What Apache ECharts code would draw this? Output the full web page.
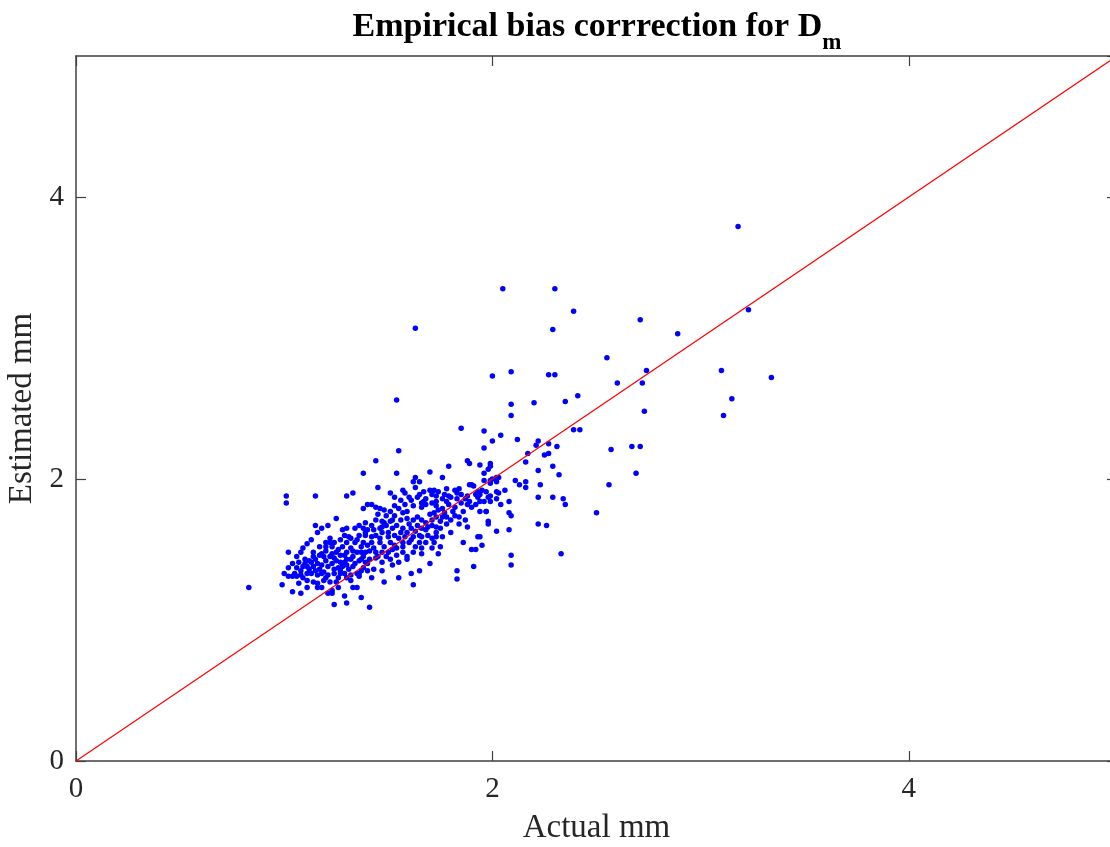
<!DOCTYPE html>
<html>
<head>
<meta charset="utf-8">
<style>
html, body { margin: 0; padding: 0; background: #fff; }
#container { width: 1110px; height: 847px; }
</style>
<script src="https://cdn.jsdelivr.net/npm/echarts@6/dist/echarts.min.js"></script>
</head>
<body>
<div id="container"></div>
<script>
// axis ticks
var xTicks = [0, 2, 4];
var yTicks = [0, 2, 4];

// reference line y = x
var refLine = [[0, 0], [5, 5]];

// sparse points, upper right tail
var tailPts = [
    [3.18, 3.79], [3.23, 3.20], [2.71, 3.13], [2.89, 3.03], [2.55, 2.86], [2.60, 2.68],
    [2.72, 2.68], [2.74, 2.77], [2.73, 2.48], [3.10, 2.77], [3.15, 2.57], [3.11, 2.45],
    [3.34, 2.72], [2.57, 2.21], [2.67, 2.23], [2.71, 2.23], [2.69, 2.04], [2.56, 1.96],
    [2.50, 1.76], [2.39, 3.19], [2.29, 3.06], [2.05, 3.35], [2.30, 3.35], [1.63, 3.07]
];

// points around actual 1.9 - 2.4
var midPts = [
    [2.00, 2.73], [2.09, 2.76], [2.27, 2.74], [2.30, 2.74], [2.09, 2.53], [2.09, 2.45],
    [2.20, 2.54], [2.35, 2.55], [2.41, 2.59], [1.96, 2.34], [2.04, 2.31], [2.00, 2.27],
    [1.96, 2.22], [2.12, 2.28], [2.22, 2.27], [2.21, 2.24], [2.27, 2.25], [2.31, 2.23],
    [2.39, 2.35], [2.42, 2.35], [2.17, 2.18], [2.25, 2.17], [2.27, 2.18], [2.16, 2.12],
    [2.29, 2.09], [2.22, 2.06], [2.32, 2.03], [1.94, 2.10], [1.99, 2.11], [1.99, 2.09],
    [1.98, 2.07], [1.96, 2.04], [1.96, 1.99], [1.99, 1.99], [1.99, 1.97], [2.02, 2.01],
    [2.03, 2.01], [2.02, 1.98], [2.11, 1.99], [2.13, 1.96], [2.16, 1.98], [2.16, 1.94],
    [2.23, 1.96], [2.22, 1.87], [2.29, 1.87], [2.34, 1.86], [2.35, 1.82], [1.95, 1.92],
    [1.94, 1.89], [1.98, 1.87], [2.02, 1.91], [2.03, 1.90], [2.06, 1.92], [2.02, 1.86],
    [1.94, 1.84], [1.96, 1.84], [1.99, 1.84], [2.04, 1.82], [2.08, 1.84], [1.97, 1.77],
    [1.94, 1.77], [2.08, 1.76], [2.09, 1.74], [1.98, 1.70], [1.98, 1.68], [2.02, 1.63],
    [2.08, 1.64], [2.22, 1.68], [2.26, 1.67], [1.95, 1.53], [2.09, 1.46], [2.09, 1.39],
    [2.33, 1.47], [1.94, 1.59]
];

// points around actual 1.35 - 1.95
var upperCluster = [
    [1.85, 2.36], [1.55, 2.20], [1.44, 2.13], [1.38, 2.04], [1.54, 2.56], [1.54, 2.04],
    [1.70, 2.05], [1.79, 2.09], [1.88, 2.13], [1.89, 2.11], [2.00, 2.00], [1.76, 2.01],
    [1.63, 2.01], [1.62, 1.98], [1.65, 1.98], [1.63, 1.94], [1.45, 1.94], [1.51, 1.90],
    [1.57, 1.92], [1.58, 1.90], [1.53, 1.87], [1.56, 1.85], [1.60, 1.87], [1.61, 1.85],
    [1.65, 1.89], [1.64, 1.87], [1.67, 1.91], [1.70, 1.92], [1.72, 1.92], [1.71, 1.89],
    [1.73, 1.88], [1.74, 1.91], [1.77, 1.89], [1.76, 1.86], [1.79, 1.88], [1.80, 1.87],
    [1.83, 1.86], [1.84, 1.93], [1.85, 1.89], [1.82, 1.92], [1.89, 1.96], [1.90, 1.96],
    [1.91, 1.95], [1.93, 1.91], [1.92, 1.89], [1.93, 1.87], [1.89, 1.84], [1.88, 1.88],
    [1.97, 1.91], [1.99, 1.88], [1.40, 1.82], [1.42, 1.82], [1.44, 1.80], [1.46, 1.79],
    [1.48, 1.78], [1.38, 1.79], [1.53, 1.81], [1.55, 1.79], [1.51, 1.77], [1.53, 1.74],
    [1.57, 1.76], [1.59, 1.77], [1.66, 1.83], [1.66, 1.80], [1.67, 1.84], [1.68, 1.82],
    [1.71, 1.83], [1.73, 1.84], [1.73, 1.81], [1.74, 1.78], [1.72, 1.76], [1.76, 1.79],
    [1.78, 1.84], [1.79, 1.82], [1.82, 1.80], [1.86, 1.77], [1.88, 1.82], [1.90, 1.80],
    [1.92, 1.82], [1.97, 1.77], [1.84, 1.73], [1.82, 1.74], [1.80, 1.71], [1.78, 1.73],
    [1.76, 1.73], [1.73, 1.73], [1.71, 1.71], [1.68, 1.69], [1.66, 1.71], [1.64, 1.73],
    [1.62, 1.71], [1.59, 1.72], [1.56, 1.71], [1.52, 1.71], [1.51, 1.70], [1.48, 1.69],
    [1.47, 1.70], [1.44, 1.71], [1.42, 1.67], [1.39, 1.69], [1.38, 1.65], [1.40, 1.64],
    [1.43, 1.64], [1.46, 1.65], [1.49, 1.67], [1.52, 1.65], [1.54, 1.67], [1.57, 1.65],
    [1.61, 1.65], [1.64, 1.67], [1.66, 1.65], [1.68, 1.64], [1.71, 1.67], [1.73, 1.66],
    [1.75, 1.65], [1.78, 1.68], [1.80, 1.62], [1.84, 1.68], [1.87, 1.71], [1.88, 1.66],
    [1.93, 1.59], [1.50, 1.62], [1.56, 1.62], [1.60, 1.68], [1.63, 1.63], [1.69, 1.66],
    [1.70, 1.75], [1.75, 1.70], [1.77, 1.76], [1.81, 1.77], [1.85, 1.83], [1.87, 1.86],
    [1.83, 1.90], [1.78, 1.93], [1.68, 1.86], [1.62, 1.81], [1.58, 1.82], [1.49, 1.74],
    [1.45, 1.75], [1.47, 1.66]
];

// points around actual 1.35 - 1.95, lower half
var lowerCluster = [
    [1.39, 1.60], [1.42, 1.59], [1.44, 1.60], [1.47, 1.62], [1.50, 1.59], [1.53, 1.60],
    [1.55, 1.58], [1.58, 1.59], [1.59, 1.62], [1.62, 1.59], [1.65, 1.60], [1.66, 1.59],
    [1.69, 1.60], [1.71, 1.58], [1.73, 1.62], [1.76, 1.59], [1.38, 1.55], [1.40, 1.53],
    [1.42, 1.55], [1.46, 1.55], [1.48, 1.52], [1.51, 1.55], [1.53, 1.53], [1.54, 1.51],
    [1.57, 1.52], [1.60, 1.55], [1.63, 1.52], [1.65, 1.55], [1.66, 1.51], [1.71, 1.51],
    [1.75, 1.52], [1.86, 1.55], [1.90, 1.50], [1.92, 1.50], [1.37, 1.48], [1.39, 1.48],
    [1.41, 1.49], [1.44, 1.48], [1.47, 1.48], [1.50, 1.48], [1.52, 1.50], [1.54, 1.46],
    [1.57, 1.48], [1.59, 1.45], [1.62, 1.48], [1.66, 1.47], [1.74, 1.47], [1.37, 1.43],
    [1.39, 1.41], [1.41, 1.43], [1.44, 1.44], [1.47, 1.41], [1.51, 1.43], [1.52, 1.39],
    [1.55, 1.41], [1.59, 1.43], [1.70, 1.40], [1.91, 1.38], [1.38, 1.37], [1.43, 1.36],
    [1.47, 1.35], [1.36, 1.33], [1.42, 1.30], [1.55, 1.30], [1.61, 1.33], [1.65, 1.35],
    [1.83, 1.35], [1.83, 1.29], [1.48, 1.27], [1.62, 1.25], [1.37, 1.16], [1.41, 1.09],
    [1.72, 1.55], [1.73, 1.59], [1.45, 1.45], [1.49, 1.45], [1.43, 1.51], [1.46, 1.58],
    [1.57, 1.55], [1.61, 1.57], [1.68, 1.55]
];

// points around actual 0.8 - 1.35
var leftCluster = [
    [1.01, 1.88], [1.01, 1.83], [1.15, 1.88], [1.30, 1.88], [1.33, 1.90], [1.25, 1.72],
    [1.15, 1.67], [1.18, 1.65], [1.21, 1.67], [1.16, 1.62], [1.13, 1.57], [1.11, 1.54],
    [1.09, 1.51], [1.02, 1.48], [1.08, 1.48], [1.14, 1.48], [1.20, 1.55], [1.20, 1.52],
    [1.22, 1.58], [1.22, 1.55], [1.20, 1.49], [1.23, 1.52], [1.28, 1.64], [1.30, 1.65],
    [1.29, 1.60], [1.31, 1.59], [1.34, 1.65], [1.36, 1.67], [1.39, 1.62], [1.35, 1.57],
    [1.34, 1.55], [1.30, 1.55], [1.28, 1.52], [1.25, 1.48], [1.27, 1.46], [1.30, 1.48],
    [1.32, 1.51], [1.35, 1.48], [1.33, 1.45], [1.30, 1.43], [1.27, 1.41], [1.24, 1.44],
    [1.22, 1.45], [1.19, 1.45], [1.17, 1.46], [1.15, 1.43], [1.12, 1.42], [1.10, 1.43],
    [1.07, 1.41], [1.06, 1.45], [1.04, 1.40], [1.06, 1.37], [1.09, 1.38], [1.11, 1.38],
    [1.14, 1.38], [1.17, 1.36], [1.18, 1.39], [1.21, 1.38], [1.23, 1.40], [1.26, 1.37],
    [1.28, 1.38], [1.30, 1.39], [1.34, 1.40], [1.38, 1.45], [1.40, 1.40], [1.40, 1.35],
    [1.37, 1.35], [1.35, 1.33], [1.32, 1.32], [1.29, 1.33], [1.27, 1.33], [1.24, 1.33],
    [1.21, 1.32], [1.18, 1.33], [1.16, 1.32], [1.13, 1.33], [1.11, 1.33], [1.08, 1.32],
    [1.06, 1.31], [1.04, 1.31], [1.02, 1.37], [1.02, 1.31], [1.11, 1.28], [1.14, 1.27],
    [1.16, 1.26], [1.19, 1.28], [1.22, 1.27], [1.25, 1.27], [1.32, 1.28], [1.36, 1.31],
    [1.07, 1.26], [1.11, 1.23], [1.16, 1.23], [1.18, 1.23], [1.23, 1.21], [1.26, 1.23],
    [1.33, 1.23], [1.35, 1.23], [0.99, 1.25], [1.04, 1.20], [1.08, 1.19], [1.21, 1.19],
    [1.23, 1.19], [0.83, 1.23], [1.29, 1.17], [1.24, 1.11], [1.30, 1.12],
    [1.08, 1.35], [1.12, 1.36], [1.15, 1.35], [1.19, 1.34], [1.24, 1.36], [1.27, 1.35],
    [1.31, 1.36], [1.33, 1.38], [1.10, 1.40], [1.13, 1.41], [1.16, 1.40], [1.20, 1.42],
    [1.25, 1.42], [1.29, 1.41], [1.32, 1.43], [1.36, 1.42], [1.14, 1.45], [1.18, 1.47],
    [1.23, 1.47], [1.26, 1.50], [1.29, 1.46], [1.33, 1.49], [1.37, 1.52], [1.24, 1.55],
    [1.27, 1.57], [1.32, 1.58], [1.36, 1.60], [1.17, 1.52], [1.05, 1.33], [1.00, 1.33],
    [1.09, 1.30], [1.20, 1.30], [1.26, 1.30], [1.30, 1.30]
];

var allPts = tailPts.concat(midPts, upperCluster, lowerCluster, leftCluster);

var dom = document.getElementById("container");
var myChart = echarts.init(dom);
var option = null;

var serif = '"Liberation Serif", "DejaVu Serif", serif';
var axisColor = '#404040';
var textColor = '#262626';

function boxAxis(pos, extra) {
    var ax = {
        type: 'value',
        position: pos,
        min: 0,
        max: 5,
        interval: 2,
        axisLine: { show: true, onZero: false, lineStyle: { color: axisColor, width: 1.5 } },
        axisTick: { show: true, inside: true, length: 10, lineStyle: { color: axisColor, width: 1.2 } },
        axisLabel: { show: false },
        splitLine: { show: false }
    };
    for (var k in extra) ax[k] = extra[k];
    return ax;
}

option = {
    animation: false,
    backgroundColor: '#ffffff',
    title: {
        text: '{t|Empirical bias corrrection for D}{s|m}',
        left: 592,
        top: 5,
        textAlign: 'center',
        textStyle: {
            rich: {
                t: { fontFamily: serif, fontSize: 34, fontWeight: 'bold', color: '#000', lineHeight: 38, verticalAlign: 'top' },
                s: { fontFamily: serif, fontSize: 23, fontWeight: 'bold', color: '#000', lineHeight: 38, verticalAlign: 'top', padding: [22, 0, 0, 0] }
            }
        }
    },
    grid: {
        left: 76,
        top: 56,
        right: -7,
        bottom: 86,
        show: false,
        containLabel: false,
        outerBoundsMode: 'none'
    },
    xAxis: [
        boxAxis('bottom', {
            name: 'Actual mm',
            nameLocation: 'middle',
            nameGap: 51,
            nameTextStyle: { fontFamily: serif, fontSize: 33, color: textColor },
            axisLabel: {
                formatter: function (v) { return xTicks.indexOf(v) >= 0 ? String(v) : ''; },
                showMaxLabel: false, margin: 14, fontFamily: serif, fontSize: 29, color: textColor
            }
        }),
        boxAxis('top', {})
    ],
    yAxis: [
        boxAxis('left', {
            name: 'Estimated mm',
            nameLocation: 'middle',
            nameGap: 35,
            nameTextStyle: { fontFamily: serif, fontSize: 33, color: textColor },
            axisLabel: {
                formatter: function (v) { return yTicks.indexOf(v) >= 0 ? String(v) : ''; },
                showMaxLabel: false, margin: 12, fontFamily: serif, fontSize: 29, color: textColor
            }
        }),
        boxAxis('right', {})
    ],
    series: [
        {
            name: 'fit',
            type: 'line',
            data: refLine,
            symbol: 'none',
            lineStyle: { color: '#ff0000', width: 1.2 },
            z: 3
        },
        {
            name: 'points',
            type: 'scatter',
            data: allPts,
            symbol: 'circle',
            symbolSize: 5.5,
            itemStyle: { color: '#0000ff', opacity: 1 },
            z: 2
        }
    ]
};

if (option && typeof option === "object") {
    myChart.setOption(option, true);
}
</script>
</body>
</html>
